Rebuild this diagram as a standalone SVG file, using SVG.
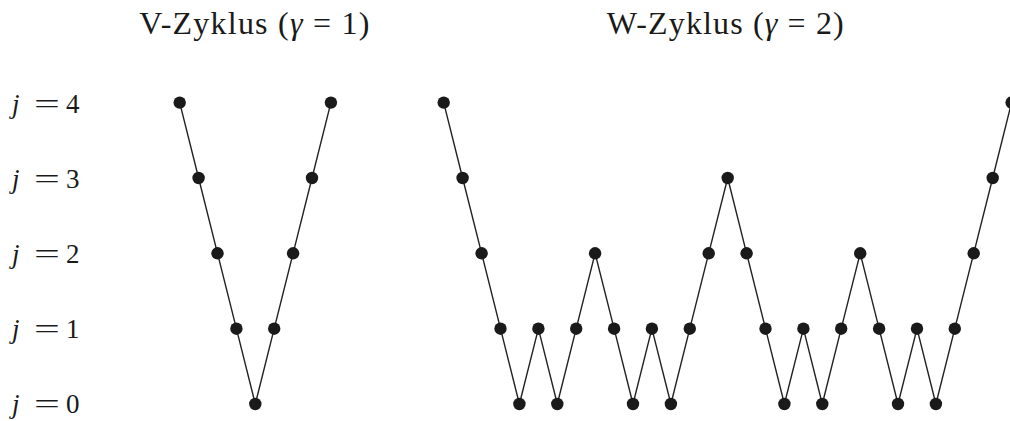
<svg xmlns="http://www.w3.org/2000/svg" width="1010" height="421" viewBox="0 0 1010 421">
<style>
.bg{fill:#ffffff}
.edge{fill:none;stroke:#222222;stroke-width:1.4;stroke-linejoin:miter}
.dot{fill:#1a1a1a}
.t{font-family:"Liberation Serif","Times New Roman",serif;fill:#1a1a1a}
.title{font-size:32px}
.lab{font-size:27px}
.it{font-style:italic}
</style>
<rect class="bg" x="0" y="0" width="1010" height="421"/>
<g id="titles">
<text class="t title" x="139.3" y="34.3" textLength="230" lengthAdjust="spacing">V-Zyklus (<tspan class="it">γ</tspan> = 1)</text>
<text class="t title" x="606.7" y="34.3" textLength="237" lengthAdjust="spacing">W-Zyklus (<tspan class="it">γ</tspan> = 2)</text>
</g>
<g id="levels">
<g id="lab4"><text class="t lab it" x="12" y="112.7">j</text><text class="t lab" transform="translate(34,112.7) scale(1.7,1)">=</text><text class="t lab" x="66" y="112.7">4</text></g>
<g id="lab3"><text class="t lab it" x="12" y="187.8">j</text><text class="t lab" transform="translate(34,187.8) scale(1.7,1)">=</text><text class="t lab" x="66" y="187.8">3</text></g>
<g id="lab2"><text class="t lab it" x="12" y="262.9">j</text><text class="t lab" transform="translate(34,262.9) scale(1.7,1)">=</text><text class="t lab" x="66" y="262.9">2</text></g>
<g id="lab1"><text class="t lab it" x="12" y="338">j</text><text class="t lab" transform="translate(34,338) scale(1.7,1)">=</text><text class="t lab" x="66" y="338">1</text></g>
<g id="lab0"><text class="t lab it" x="12" y="413.1">j</text><text class="t lab" transform="translate(34,413.1) scale(1.7,1)">=</text><text class="t lab" x="66" y="413.1">0</text></g>
</g>
<g id="connectors">
<polyline class="edge" points="179.7,102.6 198.6,178 217.5,253.3 236.4,328.7 255.3,404 274.2,328.7 293.1,253.3 312,178 330.9,102.6"/>
<polyline class="edge" points="443.7,102.6 462.6,178 481.6,253.3 500.5,328.7 519.4,404 538.4,328.7 557.3,404 576.2,328.7 595.1,253.3 614.1,328.7 633,404 651.9,328.7 670.9,404 689.8,328.7 708.7,253.3 727.7,178 746.6,253.3 765.5,328.7 784.4,404 803.4,328.7 822.3,404 841.2,328.7 860.2,253.3 879.1,328.7 898,404 917,328.7 935.9,404 954.8,328.7 973.7,253.3 992.7,178 1011.6,102.6"/>
</g>
<g id="vcycle">
<g id="v0"><circle class="dot" cx="179.7" cy="102.6" r="6.2"/></g>
<g id="v1"><circle class="dot" cx="198.6" cy="178" r="6.2"/></g>
<g id="v2"><circle class="dot" cx="217.5" cy="253.3" r="6.2"/></g>
<g id="v3"><circle class="dot" cx="236.4" cy="328.7" r="6.2"/></g>
<g id="v4"><circle class="dot" cx="255.3" cy="404" r="6.2"/></g>
<g id="v5"><circle class="dot" cx="274.2" cy="328.7" r="6.2"/></g>
<g id="v6"><circle class="dot" cx="293.1" cy="253.3" r="6.2"/></g>
<g id="v7"><circle class="dot" cx="312" cy="178" r="6.2"/></g>
<g id="v8"><circle class="dot" cx="330.9" cy="102.6" r="6.2"/></g>
</g>
<g id="wcycle">
<g id="w0"><circle class="dot" cx="443.7" cy="102.6" r="6.2"/></g>
<g id="w1"><circle class="dot" cx="462.6" cy="178" r="6.2"/></g>
<g id="w2"><circle class="dot" cx="481.6" cy="253.3" r="6.2"/></g>
<g id="w3"><circle class="dot" cx="500.5" cy="328.7" r="6.2"/></g>
<g id="w4"><circle class="dot" cx="519.4" cy="404" r="6.2"/></g>
<g id="w5"><circle class="dot" cx="538.4" cy="328.7" r="6.2"/></g>
<g id="w6"><circle class="dot" cx="557.3" cy="404" r="6.2"/></g>
<g id="w7"><circle class="dot" cx="576.2" cy="328.7" r="6.2"/></g>
<g id="w8"><circle class="dot" cx="595.1" cy="253.3" r="6.2"/></g>
<g id="w9"><circle class="dot" cx="614.1" cy="328.7" r="6.2"/></g>
<g id="w10"><circle class="dot" cx="633" cy="404" r="6.2"/></g>
<g id="w11"><circle class="dot" cx="651.9" cy="328.7" r="6.2"/></g>
<g id="w12"><circle class="dot" cx="670.9" cy="404" r="6.2"/></g>
<g id="w13"><circle class="dot" cx="689.8" cy="328.7" r="6.2"/></g>
<g id="w14"><circle class="dot" cx="708.7" cy="253.3" r="6.2"/></g>
<g id="w15"><circle class="dot" cx="727.7" cy="178" r="6.2"/></g>
<g id="w16"><circle class="dot" cx="746.6" cy="253.3" r="6.2"/></g>
<g id="w17"><circle class="dot" cx="765.5" cy="328.7" r="6.2"/></g>
<g id="w18"><circle class="dot" cx="784.4" cy="404" r="6.2"/></g>
<g id="w19"><circle class="dot" cx="803.4" cy="328.7" r="6.2"/></g>
<g id="w20"><circle class="dot" cx="822.3" cy="404" r="6.2"/></g>
<g id="w21"><circle class="dot" cx="841.2" cy="328.7" r="6.2"/></g>
<g id="w22"><circle class="dot" cx="860.2" cy="253.3" r="6.2"/></g>
<g id="w23"><circle class="dot" cx="879.1" cy="328.7" r="6.2"/></g>
<g id="w24"><circle class="dot" cx="898" cy="404" r="6.2"/></g>
<g id="w25"><circle class="dot" cx="917" cy="328.7" r="6.2"/></g>
<g id="w26"><circle class="dot" cx="935.9" cy="404" r="6.2"/></g>
<g id="w27"><circle class="dot" cx="954.8" cy="328.7" r="6.2"/></g>
<g id="w28"><circle class="dot" cx="973.7" cy="253.3" r="6.2"/></g>
<g id="w29"><circle class="dot" cx="992.7" cy="178" r="6.2"/></g>
<g id="w30"><circle class="dot" cx="1011.6" cy="102.6" r="6.2"/></g>
</g>
</svg>
